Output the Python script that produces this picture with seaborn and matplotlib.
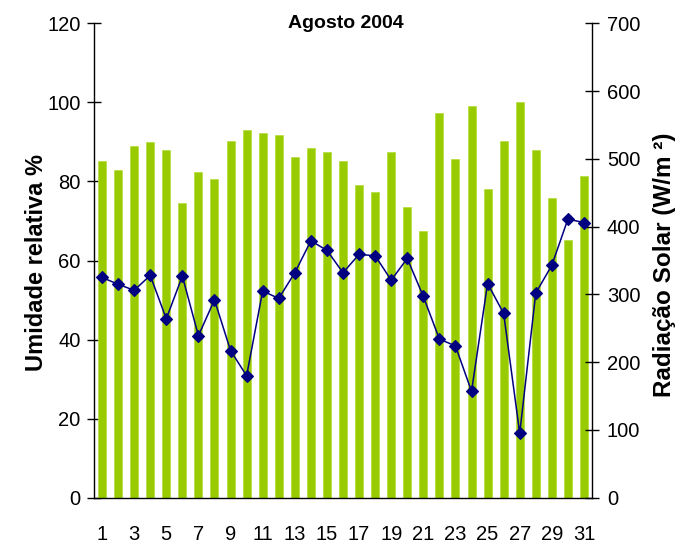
import matplotlib
matplotlib.use("Agg")
import matplotlib.pyplot as plt
import seaborn as sns
import numpy as np
import pandas as pd

# ---- data ----
days = [str(d) for d in range(1, 32)]
umidade = [85.2, 82.9, 89.0, 89.9, 88.0, 74.5, 82.4, 80.5, 90.3, 93.1,
           92.3, 91.8, 86.1, 88.5, 87.5, 85.2, 79.1, 77.3, 87.4, 73.5,
           67.5, 97.2, 85.6, 99.1, 78.1, 90.2, 100.1, 88.0, 75.8, 65.2, 81.5]
radiacao = [325, 315, 306, 328, 264, 327, 239, 292, 217, 180,
            305, 294, 332, 379, 365, 332, 359, 357, 321, 353,
            297, 234, 224, 157, 316, 272, 95, 302, 343, 411, 406]
left_ticks = [0, 20, 40, 60, 80, 100, 120]
right_ticks = [0, 100, 200, 300, 400, 500, 600, 700]
title = "Agosto 2004"
left_label = "Umidade relativa %"
right_label = "Radiação Solar (W/m ²)"

df = pd.DataFrame({"dia": days, "umidade": umidade, "radiacao": radiacao})

sns.set_style("white")
plt.rcParams["font.family"] = ["Liberation Sans", "DejaVu Sans"]
plt.rcParams["font.size"] = 14
plt.rcParams["text.color"] = "black"
plt.rcParams["axes.labelcolor"] = "black"
plt.rcParams["xtick.color"] = "black"
plt.rcParams["ytick.color"] = "black"

fig = plt.figure(figsize=(6.95, 5.48), dpi=100)
W, H = 695, 548
x0, x1, y0, y1 = 94, 592, 23.3, 497.7
ax = fig.add_axes([x0 / W, 1 - y1 / H, (x1 - x0) / W, (y1 - y0) / H])

sns.barplot(data=df, x="dia", y="umidade", ax=ax, color="#99CC00",
            width=0.5, saturation=1, edgecolor="#B5DB3A", linewidth=0.5)
ax2 = ax.twinx()
sns.pointplot(data=df, x="dia", y="radiacao", ax=ax2, color="#000080",
              markers="D", markersize=6.5, linewidth=1.1, errorbar=None)

n = len(days)
ax.set_xlim(-0.5, n - 0.5)
ax.set_ylim(0, 120)
ax2.set_ylim(0, 700)
ax.set_yticks(left_ticks)
ax2.set_yticks(right_ticks)

# x ticks: labels on odd days at centers, crossing ticks at boundaries
ax.set_xticks(np.arange(0, n, 2))
ax.set_xticklabels(days[::2])
ax.set_xticks(np.arange(-0.5, n, 1), minor=True)
ax.tick_params(axis="x", which="major", length=0, pad=20, labelsize=14.5)
ax.tick_params(axis="x", which="minor", direction="inout", length=9, width=1, color="black")
ax.tick_params(axis="y", direction="inout", length=9.4, width=1, pad=5, labelsize=14.5, color="black", left=True)
ax2.tick_params(axis="y", direction="inout", length=9.4, width=1, pad=6, labelsize=14.5, color="black", right=True)

for a in (ax, ax2):
    a.set_xlabel("")
    a.grid(False)
    a.spines["top"].set_visible(False)
ax.spines["right"].set_visible(False)
ax2.spines["left"].set_visible(False)
ax2.spines["bottom"].set_visible(False)
for s in ("left", "bottom"):
    ax.spines[s].set_color("black")
    ax.spines[s].set_linewidth(1)
ax2.spines["right"].set_color("black")
ax2.spines["right"].set_linewidth(1)

ax.set_ylabel(left_label, fontweight="bold", fontsize=17, va="center", ha="center")
ax.yaxis.set_label_coords((37 - x0) / (x1 - x0), 0.495)
ax2.set_ylabel(right_label, fontweight="bold", fontsize=17.5, va="center", ha="center")
ax2.yaxis.set_label_coords((664 - x0) / (x1 - x0), 0.49)

ax.text(0.505, 1.0, title, transform=ax.transAxes, ha="center", va="center",
        fontweight="bold", fontsize=14)

fig.savefig("out.png", dpi=100)
